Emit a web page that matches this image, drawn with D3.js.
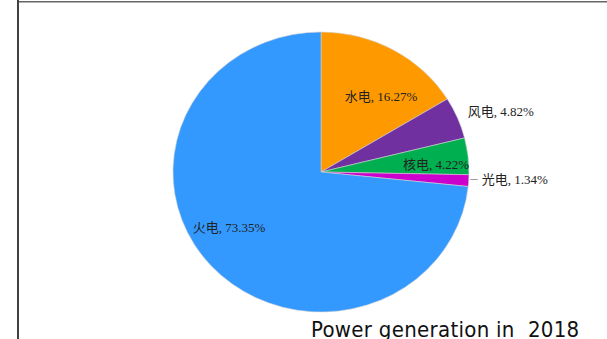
<!DOCTYPE html>
<html>
<head>
<meta charset="utf-8">
<script src="https://cdn.jsdelivr.net/npm/d3@7/dist/d3.min.js"></script>
<style>
  html, body { margin: 0; padding: 0; background: #fff; }
  svg { display: block; }
</style>
</head>
<body>
<svg id="chart" width="607" height="339"></svg>
<script>
// Electricity generation mix, share of total (%)
const categories = ["水电", "风电", "核电", "光电", "火电"];
const shares = [16.27, 4.82, 4.22, 1.34, 73.35];
const colors = ["#FF9900", "#7030A0", "#00B050", "#CC00CC", "#3399FF"];
const titleText = "Power generation in  2018";

// Label anchors: angle (degrees clockwise from 12 o'clock) and radius fraction
const labelAngles = [36.8, 70.3, 85.8, 93.5, 237.3];
const labelRadii = [0.678, 1.29, 0.779, 1.0, 0.739];

const svg = d3.select("#chart");
const W = 607, H = 339;
const cx = 321, cy = 172, R = 148, yScale = 140 / 148;

// frame lines
svg.append("line").attr("x1", 18).attr("x2", 18).attr("y1", 0).attr("y2", H)
  .attr("stroke", "#111").attr("stroke-width", 1.6);
svg.append("line").attr("x1", 19).attr("x2", W).attr("y1", 1.8).attr("y2", 1.8)
  .attr("stroke", "#666").attr("stroke-width", 1.6);

const data = categories.map((c, i) => ({ name: c, value: shares[i], color: colors[i], i }));

const pie = d3.pie().value(d => d.value).sort(null);
const arcs = pie(data);
const arc = d3.arc().innerRadius(0).outerRadius(R);

const g = svg.append("g")
  .attr("transform", `translate(${cx},${cy}) scale(1,${yScale})`);

g.selectAll("path.slice")
  .data(arcs)
  .join("path")
  .attr("class", "slice")
  .attr("d", arc)
  .attr("fill", d => d.data.color)
  .attr("stroke", "#d0d0d0")
  .attr("stroke-width", 0.6);

// label positions
const toRad = a => a * Math.PI / 180;
function labelPos(i) {
  const a = toRad(labelAngles[i]);
  const r = labelRadii[i] * R;
  return [cx + r * Math.sin(a), cy - r * Math.cos(a) * yScale];
}

const fmt = d => `${d.name}, ${d.value.toFixed(2)}%`;
const labelFont = "'Liberation Serif', 'Times New Roman', 'Noto Sans CJK SC', serif";

arcs.forEach(d => {
  const i = d.data.i;
  const [x, y] = labelPos(i);
  if (labelRadii[i] >= 1.0 && d.data.name === "光电") {
    // short leader from the slice edge to the outside label
    svg.append("line")
      .attr("x1", x + 1.5).attr("x2", x + 9)
      .attr("y1", y - 1).attr("y2", y - 1)
      .attr("stroke", "#999").attr("stroke-width", 1);
    svg.append("text")
      .attr("x", x + 13).attr("y", y - 1)
      .attr("dy", "0.35em")
      .attr("text-anchor", "start")
      .attr("font-family", labelFont)
      .attr("font-size", 13)
      .attr("fill", "#222")
      .text(fmt(d.data));
  } else {
    svg.append("text")
      .attr("x", x).attr("y", y)
      .attr("dy", "0.35em")
      .attr("text-anchor", "middle")
      .attr("font-family", labelFont)
      .attr("font-size", 13)
      .attr("fill", "#222")
      .text(fmt(d.data));
  }
});

svg.append("text")
  .attr("x", 311).attr("y", 337)
  .attr("font-family", "'DejaVu Sans Condensed', 'DejaVu Sans', sans-serif")
  .style("font-stretch", "condensed")
  .style("white-space", "pre")
  .style("letter-spacing", "0.3px")
  .attr("font-size", 22)
  .attr("fill", "#111")
  .text(titleText);
</script>
</body>
</html>
